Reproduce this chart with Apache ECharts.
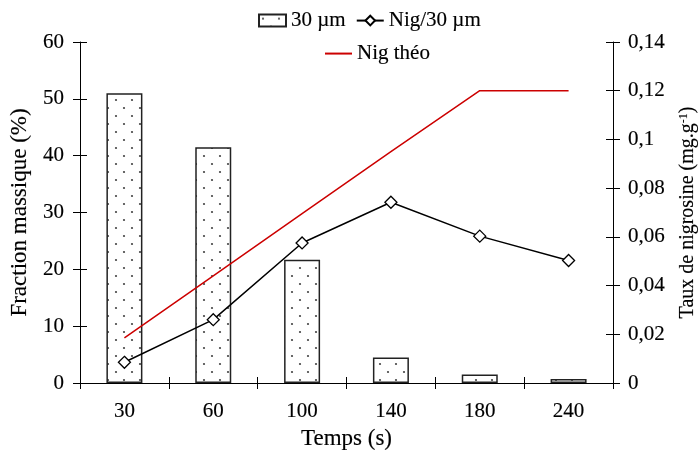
<!DOCTYPE html>
<html><head><meta charset="utf-8">
<script src="https://cdn.jsdelivr.net/npm/echarts@6/dist/echarts.min.js"></script>
<style>html,body{margin:0;padding:0;background:#fff}#c{width:700px;height:455px}</style>
</head><body><div id="c"></div>
<script>
const categories = ['30', '60', '100', '140', '180', '240'];
const fraction30 = [51, 41.5, 21.7, 4.5, 1.5, 0.7];
const nig30 = [0.0085, 0.026, 0.0575, 0.0742, 0.0603, 0.0503];
const nigTheo = [0.0185, 0.044, 0.0695, 0.095, 0.12, 0.12];
const leftTicks = {min: 0, max: 60, interval: 10};
const rightTicks = {min: 0, max: 0.14, interval: 0.02};

const FONT = 'Liberation Serif';
const base = {fontFamily: FONT, color: '#000', textBorderColor: '#000', textBorderWidth: 0.15};
const txt = Object.assign({fontSize: 21}, base);
const nameTxt = Object.assign({fontSize: 23}, base);

// dotted fill tile
const tile = document.createElement('canvas');
tile.width = 16; tile.height = 16;
const tc = tile.getContext('2d');
tc.fillStyle = '#fff'; tc.fillRect(0, 0, 16, 16);
tc.fillStyle = '#444';
[[4, 4], [12, 12]].forEach(p => { tc.beginPath(); tc.arc(p[0], p[1], 1.1, 0, Math.PI * 2); tc.fill(); });

const chart = echarts.init(document.getElementById('c'), null, {renderer: 'canvas'});
const fmtRight = v => { const r = Math.round(v * 100) / 100; return String(r).replace('.', ','); };
const axisLine = {show: true, lineStyle: {color: '#000', width: 1}};
chart.setOption({
  animation: false,
  backgroundColor: '#fff',
  grid: {left: 80, right: 87, top: 42, bottom: 72, outerBoundsMode: 'none', containLabel: false},
  legend: [
    {data: [{name: '30 µm', icon: 'rect'}, 'Nig/30 µm'], top: 5, left: 253, itemWidth: 27, itemHeight: 12, itemGap: 10, textStyle: txt},
    {data: [{name: 'Nig théo', icon: 'rect'}], top: 38, left: 320, itemWidth: 27, itemHeight: 2, textStyle: txt}
  ],
  xAxis: [
    {type: 'category', data: categories, position: 'bottom', axisLine: axisLine,
     axisTick: {show: true, length: 6, lineStyle: {color: '#000'}},
     axisLabel: Object.assign({margin: 18}, txt),
     name: 'Temps (s)', nameLocation: 'middle', nameGap: 42, nameTextStyle: nameTxt},
    {type: 'category', data: categories, position: 'bottom', axisLine: {show: false},
     axisTick: {show: true, inside: true, length: 6, lineStyle: {color: '#000'}},
     axisLabel: {show: false}}
  ],
  yAxis: [
    Object.assign({type: 'value', position: 'left', axisLine: axisLine,
     axisTick: {show: true, length: 7, lineStyle: {color: '#000'}},
     axisLabel: Object.assign({margin: 16}, txt), splitLine: {show: false},
     name: 'Fraction massique (%)', nameLocation: 'middle', nameRotate: 90, nameGap: 45, nameTextStyle: nameTxt}, leftTicks),
    Object.assign({type: 'value', position: 'right', axisLine: axisLine,
     axisTick: {show: true, length: 7, lineStyle: {color: '#000'}},
     axisLabel: Object.assign({margin: 15, formatter: fmtRight}, txt), splitLine: {show: false},
     name: 'Taux de nigrosine (mg.g{sup|-1})', nameLocation: 'middle', nameRotate: 90, nameGap: 65,
     nameTextStyle: Object.assign({fontSize: 20, rich: {sup: {fontFamily: FONT, fontSize: 12, verticalAlign: 'top', padding: [0,0,8,0], textBorderColor: '#000', textBorderWidth: 0.1}}}, base)}, rightTicks),
    Object.assign({type: 'value', position: 'left', axisLine: {show: false},
     axisTick: {show: true, inside: true, length: 7, lineStyle: {color: '#000'}},
     axisLabel: {show: false}, splitLine: {show: false}}, leftTicks),
    Object.assign({type: 'value', position: 'right', axisLine: {show: false},
     axisTick: {show: true, inside: true, length: 7, lineStyle: {color: '#000'}},
     axisLabel: {show: false}, splitLine: {show: false}}, rightTicks)
  ],
  series: [
    {name: '30 µm', type: 'bar', data: fraction30, xAxisIndex: 0, yAxisIndex: 0, barWidth: 36,
     itemStyle: {color: {image: tile, repeat: 'repeat'}, borderColor: '#222', borderWidth: 1.5}},
    {name: 'Nig/30 µm', type: 'line', data: nig30, xAxisIndex: 0, yAxisIndex: 1,
     symbol: 'diamond', symbolSize: 12, showSymbol: true,
     lineStyle: {color: '#000', width: 1.5}, itemStyle: {color: '#fff', borderColor: '#000', borderWidth: 1.3}},
    {name: 'Nig théo', type: 'line', data: nigTheo, xAxisIndex: 0, yAxisIndex: 1,
     symbol: 'none', lineStyle: {color: '#cc0000', width: 1.5}, itemStyle: {color: '#cc0000'}}
  ]
});
</script></body></html>
